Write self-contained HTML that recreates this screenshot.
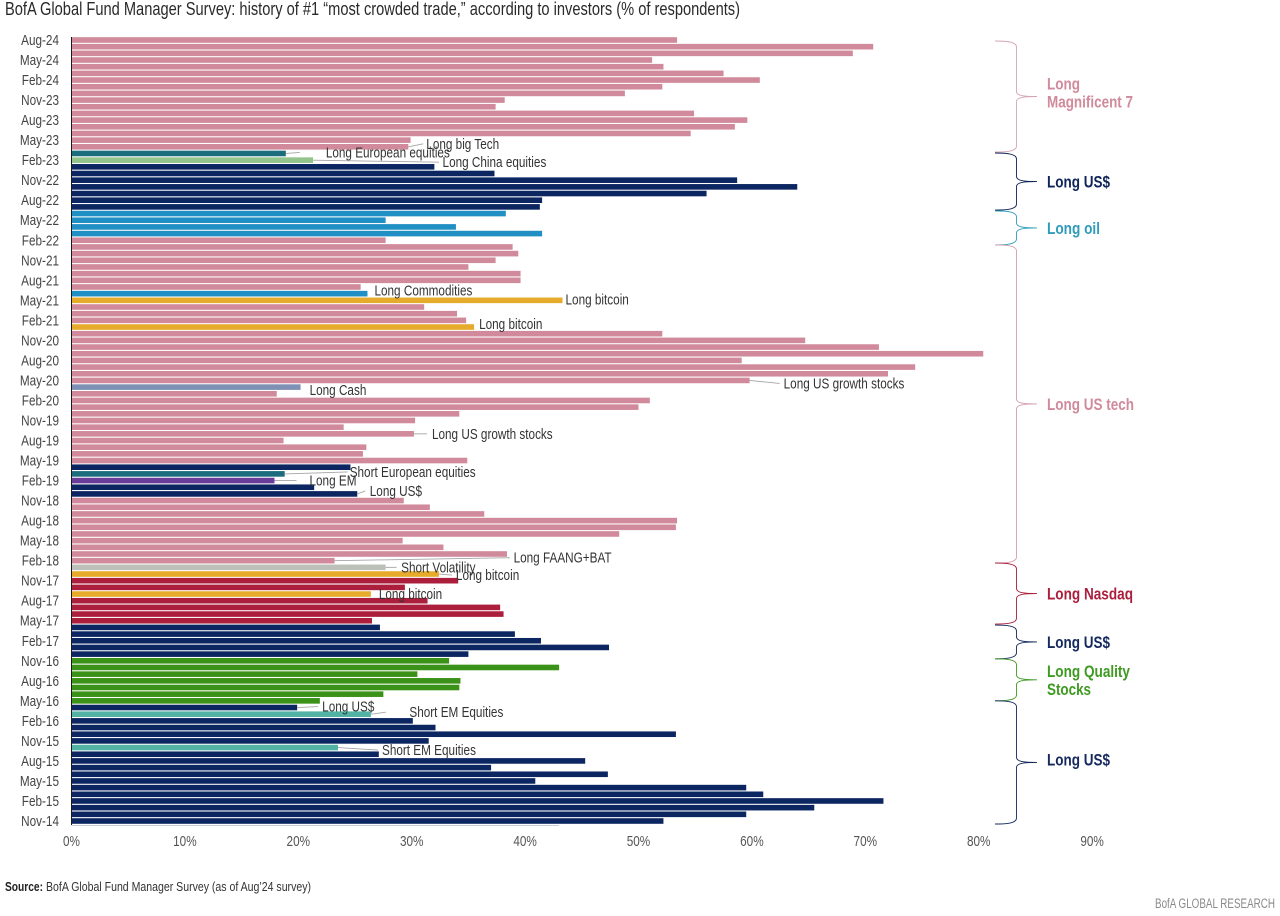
<!DOCTYPE html>
<html lang="en">
<head>
<meta charset="utf-8">
<title>BofA Global Fund Manager Survey: most crowded trade</title>
<style>
html,body{margin:0;padding:0;background:#fff;}
svg{display:block;filter:blur(0.3px);}
text{font-family:"Liberation Sans",sans-serif;}
</style>
</head>
<body>
<svg id="chart" xmlns="http://www.w3.org/2000/svg" width="1280" height="916" viewBox="0 0 1280 916">
  <rect x="0" y="0" width="1280" height="916" fill="#ffffff"/>
  <text x="5" y="15" font-size="18.5" fill="#2a2a2a" textLength="735" lengthAdjust="spacingAndGlyphs">BofA Global Fund Manager Survey: history of #1 “most crowded trade,” according to investors (% of respondents)</text>
  <g id="bars"></g>
  <g id="yaxis"></g>
  <g id="xaxis"></g>
  <g id="notes"></g>
  <g id="braces"></g>
  <text x="5" y="891" font-size="13" font-weight="bold" fill="#222" textLength="38" lengthAdjust="spacingAndGlyphs">Source:</text>
  <text x="46" y="891" font-size="13" fill="#333" textLength="265" lengthAdjust="spacingAndGlyphs">BofA Global Fund Manager Survey (as of Aug’24 survey)</text>
  <text x="1155" y="908" font-size="13.5" fill="#8a8a8a" textLength="120" lengthAdjust="spacingAndGlyphs">BofA GLOBAL RESEARCH</text>
</svg>
<script>
const categories = [
"Aug-24","Jul-24","Jun-24","May-24","Apr-24","Mar-24","Feb-24","Jan-24","Dec-23","Nov-23",
"Oct-23","Sep-23","Aug-23","Jul-23","Jun-23","May-23","Apr-23","Mar-23","Feb-23","Jan-23",
"Dec-22","Nov-22","Oct-22","Sep-22","Aug-22","Jul-22","Jun-22","May-22","Apr-22","Mar-22",
"Feb-22","Jan-22","Dec-21","Nov-21","Oct-21","Sep-21","Aug-21","Jul-21","Jun-21","May-21",
"Apr-21","Mar-21","Feb-21","Jan-21","Dec-20","Nov-20","Oct-20","Sep-20","Aug-20","Jul-20",
"Jun-20","May-20","Apr-20","Mar-20","Feb-20","Jan-20","Dec-19","Nov-19","Oct-19","Sep-19",
"Aug-19","Jul-19","Jun-19","May-19","Apr-19","Mar-19","Feb-19","Jan-19","Dec-18","Nov-18",
"Oct-18","Sep-18","Aug-18","Jul-18","Jun-18","May-18","Apr-18","Mar-18","Feb-18","Jan-18",
"Dec-17","Nov-17","Oct-17","Sep-17","Aug-17","Jul-17","Jun-17","May-17","Apr-17","Mar-17",
"Feb-17","Jan-17","Dec-16","Nov-16","Oct-16","Sep-16","Aug-16","Jul-16","Jun-16","May-16",
"Apr-16","Mar-16","Feb-16","Jan-16","Dec-15","Nov-15","Oct-15","Sep-15","Aug-15","Jul-15",
"Jun-15","May-15","Apr-15","Mar-15","Feb-15","Jan-15","Dec-14","Nov-14"];

const values = [
53.4,70.7,68.9,51.2,52.2,57.5,60.7,52.1,48.8,38.2,
37.4,54.9,59.6,58.5,54.6,29.9,29.7,18.9,21.3,32.0,
37.3,58.7,64.0,56.0,41.5,41.3,38.3,27.7,33.9,41.5,
27.7,38.9,39.4,37.4,35.0,39.6,39.6,25.5,26.1,43.3,
31.1,34.0,34.8,35.5,52.1,64.7,71.2,80.4,59.1,74.4,
72.0,59.8,20.2,18.1,51.0,50.0,34.2,30.3,24.0,30.2,
18.7,26.0,25.7,34.9,24.6,18.8,17.9,21.4,25.2,29.3,
31.6,36.4,53.4,53.3,48.3,29.2,32.8,38.4,23.2,27.7,
32.4,34.1,29.4,26.4,31.4,37.8,38.1,26.5,27.2,39.1,
41.4,47.4,35.0,33.3,43.0,30.5,34.3,34.2,27.5,21.9,
19.9,26.4,30.1,32.1,53.3,31.5,23.5,27.1,45.3,37.0,
47.3,40.9,59.5,61.0,71.6,65.5,59.5,52.2];

const themes = [
"p","p","p","p","p","p","p","p","p","p","p","p","p","p","p","p","p","e","c",
"n","n","n","n","n","n","n","b","b","b","b",
"p","p","p","p","p","p","p","p","b","g","p","p","p","g",
"p","p","p","p","p","p","p","p","s",
"p","p","p","p","p","p","p","p","p","p","p",
"n","e","v","n","n",
"p","p","p","p","p","p","p","p","p","p","y","g","r","r","g","r","r","r","r",
"n","n","n","n","n",
"q","q","q","q","q","q","q",
"n","t","n","n","n","n","t",
"n","n","n","n","n","n","n","n","n","n","n"];

const themeColors = {p:"#d08a9b",n:"#0c2661",b:"#1f8fc4",g:"#e6ab2a",e:"#1b6c7c",c:"#93c48c",s:"#7f90b5",v:"#6a3d9a",y:"#bcc0b8",r:"#ab1f3d",q:"#3a9218",t:"#52b3a4"};

const xTicks = [0,10,20,30,40,50,60,70,80,90];

const noteTexts = ["Long big Tech","Long European equities","Long China equities","Long Commodities","Long bitcoin","Long bitcoin","Long US growth stocks","Long Cash","Long US growth stocks","Short European equities","Long EM","Long US$","Long FAANG+BAT","Short Volatility","Long bitcoin","Long bitcoin","Long US$","Short EM Equities","Short EM Equities"];
const noteBars = [16,17,18,38,39,43,51,52,59,65,66,68,78,79,80,83,100,101,106];
const noteGaps = [18,40,129.5,7,3,5,34,9,18,65,35,12.5,179,15.5,17,8,25,38.5,44];
const noteLifts = [-3,-1,2,-3,-1,-3,3,3,0,-2,0,-3,-3,0,1,0,-1,-2,2.5];
const noteLeaderLengths = [15,14,126,0,0,0,30,0,13,63,22,8,175,11,13,0,21,15,40];

const braceNames = ["long-magnificent-7","long-us-dollar-2022","long-oil","long-us-tech","long-nasdaq","long-us-dollar-2017","long-quality-stocks","long-us-dollar-2015"];
const braceFirst = [0.15,16.93,25.6,30.7,78.35,87.64,92.7,99];
const braceLast = [16.78,25.47,30.7,78.35,87.5,92.7,99,117.45];
const braceColors = ["#d3a6b2","#0f2458","#2f9cbb","#d3a0ae","#ab1f3d","#15295e","#3f9a22","#15295e"];
const braceLabels = [["Long","Magnificent 7"],["Long US$"],["Long oil"],["Long US tech"],["Long Nasdaq"],["Long US$"],["Long Quality","Stocks"],["Long US$"]];
const braceLabelWidths = [[33,86],[63],[53],[87],[86],[63],[83,44],[63]];

const NS = "http://www.w3.org/2000/svg";
const TEXT_SQUEEZE = 0.81;
const xZero = 71.5, xPerPoint = 11.34;
const yTop = 40, yStep = (821 - 40) / 117;
function xScale(v){ return xZero + v * xPerPoint; }
function yScale(i){ return yTop + i * yStep; }
function make(tag, attrs){
  const el = document.createElementNS(NS, tag);
  for (const k in attrs) el.setAttribute(k, attrs[k]);
  return el;
}

const barsLayer = document.getElementById("bars");
values.forEach(function(v, i){
  const bar = make("rect", {x: xZero, y: yScale(i) - 2.8, width: xScale(v) - xZero, height: 5.6, fill: themeColors[themes[i]]});
  
  
  barsLayer.appendChild(bar);
});

const yAxis = document.getElementById("yaxis");
const axisLine = make("line", {x1: xZero, x2: xZero, y1: 37, y2: 825, stroke: "#1a1a1a", "stroke-width": 1});


yAxis.appendChild(axisLine);
categories.forEach(function(name, i){
  if (i % 3 !== 0) return;
  const label = make("text", {transform: "translate(59," + (yScale(i) + 5) + ") scale(" + TEXT_SQUEEZE + ",1)", "text-anchor": "end", "font-size": 14.5, fill: "#444"});
  label.textContent = name;
  
  
  yAxis.appendChild(label);
});

const xAxis = document.getElementById("xaxis");
const baseLine = make("line", {x1: xZero, x2: 559, y1: 825.5, y2: 825.5, stroke: "#c6cddd", "stroke-width": 1});


xAxis.appendChild(baseLine);
xTicks.forEach(function(t){
  const label = make("text", {transform: "translate(" + xScale(t) + ",846) scale(" + TEXT_SQUEEZE + ",1)", "text-anchor": "middle", "font-size": 14.5, fill: "#555"});
  label.textContent = t + "%";
  
  
  xAxis.appendChild(label);
});

const notesLayer = document.getElementById("notes");
noteTexts.forEach(function(txt, n){
  const i = noteBars[n];
  const endX = xScale(values[i]);
  const barY = yScale(i);
  const textX = endX + noteGaps[n];
  const textY = barY + noteLifts[n];
  if (noteLeaderLengths[n] > 0) {
    const leader = make("path", {d: "M" + endX + "," + barY + " L" + (endX + noteLeaderLengths[n]) + "," + textY, fill: "none", stroke: "#a5a5a5", "stroke-width": 0.9});
    
    
    notesLayer.appendChild(leader);
  }
  const label = make("text", {transform: "translate(" + textX + "," + (textY + 5) + ") scale(" + TEXT_SQUEEZE + ",1)", "font-size": 14.5, fill: "#333"});
  label.textContent = txt;
  
  
  notesLayer.appendChild(label);
});

const bracesLayer = document.getElementById("braces");
braceNames.forEach(function(name, b){
  const top = yScale(braceFirst[b]), bot = yScale(braceLast[b]), mid = (top + bot) / 2;
  const d = "M995," + top + " C1008," + top + " 1016.5," + (top + 1) + " 1016.5," + (top + 6) +
    " L1016.5," + (mid - 5) + " C1016.5," + (mid - 1) + " 1023," + mid + " 1037," + mid +
    " C1023," + mid + " 1016.5," + (mid + 1) + " 1016.5," + (mid + 5) +
    " L1016.5," + (bot - 6) + " C1016.5," + (bot - 1) + " 1008," + bot + " 995," + bot;
  const brace = make("path", {d: d, fill: "none", stroke: braceColors[b], "stroke-width": 0.9});
  
  
  bracesLayer.appendChild(brace);
  const lines = braceLabels[b];
  lines.forEach(function(line, k){
    const y = mid + (k - (lines.length - 1) / 2) * 18 + 6 - (b === 0 ? 4 : 0) - (b === 7 ? 3 : 0);
    const label = make("text", {x: 1047, y: y, "font-size": 16.5, "font-weight": "bold", fill: braceColors[b] === "#d3a6b2" || braceColors[b] === "#d3a0ae" ? "#d08a9b" : braceColors[b], textLength: braceLabelWidths[b][k], lengthAdjust: "spacingAndGlyphs"});
    label.textContent = line;
    
    
    bracesLayer.appendChild(label);
  });
});
</script>
</body>
</html>
